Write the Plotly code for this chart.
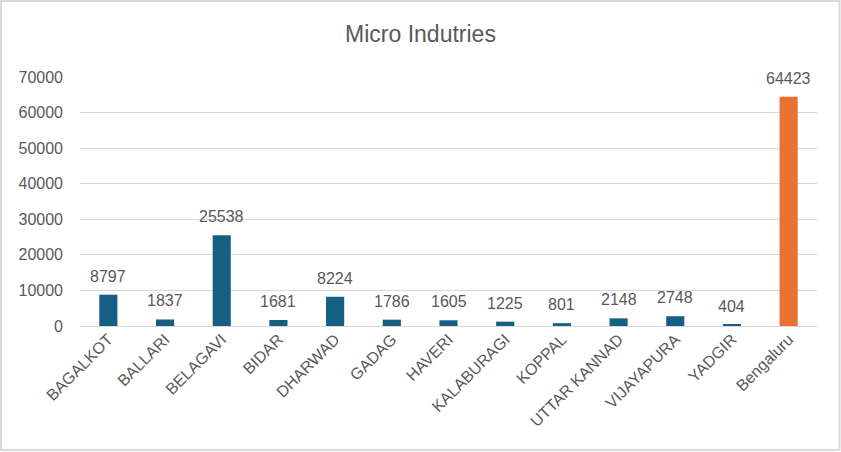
import plotly.graph_objects as go

districts = ["BAGALKOT", "BALLARI", "BELAGAVI", "BIDAR", "DHARWAD", "GADAG", "HAVERI",
             "KALABURAGI", "KOPPAL", "UTTAR KANNAD", "VIJAYAPURA", "YADGIR", "Bengaluru"]
units = [8797, 1837, 25538, 1681, 8224, 1786, 1605, 1225, 801, 2148, 2748, 404, 64423]
y_ticks = [0, 10000, 20000, 30000, 40000, 50000, 60000, 70000]

BLUE = "#156082"
ORANGE = "#E97132"
TEXT = "#595959"
GRID = "#D9D9D9"
FONT = "Liberation Sans"

colors = [ORANGE if d == "Bengaluru" else BLUE for d in districts]

W, H = 841, 452
ml, mr, mt, mb = 80, 24, 77, 126
pw, ph = W - ml - mr, H - mt - mb

fig = go.Figure()
fig.add_trace(go.Bar(x=districts, y=units, marker=dict(color=colors, line=dict(width=0)),
                     width=0.32, hoverinfo="x+y"))

for d, v in zip(districts, units):
    fig.add_annotation(x=d, y=v, text=str(v), showarrow=False, yanchor="bottom",
                       yshift=8, font=dict(family=FONT, size=16, color=TEXT))

fig.add_shape(type="rect", xref="paper", yref="paper",
              x0=-(ml - 1) / pw, x1=(W - ml - 1.5) / pw,
              y0=-(mb - 2) / ph, y1=1 + (mt - 1) / ph,
              line=dict(color=GRID, width=2), fillcolor="rgba(0,0,0,0)", layer="below")

fig.update_layout(
    width=W, height=H,
    margin=dict(l=ml, r=mr, t=mt, b=mb, autoexpand=False),
    paper_bgcolor="white", plot_bgcolor="white",
    showlegend=False,
    title=dict(text="Micro Indutries", x=0.5, xanchor="center", y=1 - 34 / H, yanchor="middle",
               font=dict(family=FONT, size=23, color=TEXT)),
    font=dict(family=FONT, color=TEXT),
    bargap=0.68,
    xaxis=dict(tickangle=-45, tickfont=dict(family=FONT, size=16, color=TEXT),
               showgrid=False, showline=False, ticks="", zeroline=False, automargin=False),
    yaxis=dict(range=[0, 70000], tickvals=y_ticks, ticktext=[str(t) for t in y_ticks],
               tickfont=dict(family=FONT, size=16, color=TEXT),
               showgrid=True, gridcolor=GRID, gridwidth=1.3, zeroline=True,
               zerolinecolor=GRID, zerolinewidth=1.3, showline=False, ticks="",
               ticklabelstandoff=16, automargin=False),
)

fig.write_html("out.html", config={"displayModeBar": False},
               post_script="document.body.style.margin='0';document.body.style.overflow='hidden';")
